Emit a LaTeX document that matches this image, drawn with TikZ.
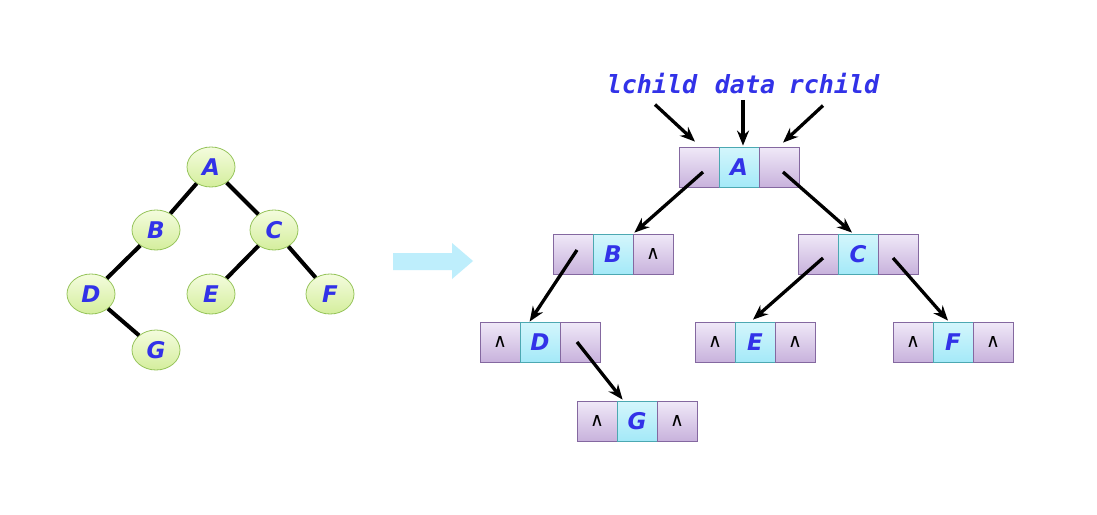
\documentclass[tikz,border=0pt]{standalone}
\usepackage{fontspec}
\usetikzlibrary{arrows.meta,shapes.geometric,calc}
\newfontfamily\dvsans{DejaVu Sans}
\newfontfamily\dvmono{DejaVu Sans Mono}
\definecolor{letterblue}{RGB}{50,50,232}
\definecolor{elltop}{RGB}{244,252,222}
\definecolor{ellbot}{RGB}{212,238,156}
\definecolor{elldraw}{RGB}{150,196,90}
\definecolor{purtop}{RGB}{240,233,248}
\definecolor{purbot}{RGB}{200,178,220}
\definecolor{purdraw}{RGB}{132,104,160}
\definecolor{cyantop}{RGB}{212,246,252}
\definecolor{cyanbot}{RGB}{164,233,248}
\definecolor{cyandraw}{RGB}{76,168,178}
\definecolor{bigarrow}{RGB}{190,238,252}
\tikzset{
  treenode/.style={ellipse, minimum width=48pt, minimum height=40pt, inner sep=0pt,
    top color=elltop, bottom color=ellbot, draw=elldraw, line width=0.8pt,
    font=\dvsans\bfseries\itshape\fontsize{23}{23}\selectfont, text=letterblue},
  treeedge/.style={line width=4pt, black},
  ptrcell/.style={rectangle, minimum width=40pt, minimum height=40pt, inner sep=0pt,
    top color=purtop, bottom color=purbot, draw=purdraw, line width=0.8pt,
    font=\dvsans\fontsize{19}{19}\selectfont, text=black},
  datacell/.style={rectangle, minimum width=40pt, minimum height=40pt, inner sep=0pt,
    top color=cyantop, bottom color=cyanbot, draw=cyandraw, line width=0.8pt,
    font=\dvsans\bfseries\itshape\fontsize{23}{23}\selectfont, text=letterblue},
  fieldlabel/.style={font=\dvmono\bfseries\itshape\fontsize{25}{25}\selectfont, text=letterblue, inner sep=0pt},
  ptrarrow/.style={line width=3.3pt, black, -{Stealth[length=15pt,width=12pt]}},
}
% name, left x, center y, data letter, left content, right content
\newcommand{\listbox}[6]{%
  \node[ptrcell] (#1L) at (#2+20,#3) {#5};
  \node[datacell] (#1D) at (#2+60,#3) {#4};
  \node[ptrcell] (#1R) at (#2+100,#3) {#6};
}
\begin{document}
\begin{tikzpicture}[x=1pt,y=-1pt]
\useasboundingbox (0,0) rectangle (1097,514);
\fill[white] (0,0) rectangle (1097,514);

% ---- left tree ----
\node[treenode] (tA) at (211,167) {A};
\node[treenode] (tB) at (156,230) {B};
\node[treenode] (tC) at (274,230) {C};
\node[treenode] (tD) at (91,294) {D};
\node[treenode] (tE) at (211,294) {E};
\node[treenode] (tF) at (330,294) {F};
\node[treenode] (tG) at (156,350) {G};
\draw[treeedge] (tA) -- (tB);
\draw[treeedge] (tA) -- (tC);
\draw[treeedge] (tB) -- (tD);
\draw[treeedge] (tC) -- (tE);
\draw[treeedge] (tC) -- (tF);
\draw[treeedge] (tD) -- (tG);

% ---- big arrow ----
\fill[bigarrow] (393,253) -- (452,253) -- (452,243) -- (473,261) -- (452,279) -- (452,270) -- (393,270) -- cycle;

% ---- linked structure ----
\listbox{A}{679}{167}{A}{}{}
\listbox{B}{553}{254}{B}{}{∧}
\listbox{C}{798}{254}{C}{}{}
\listbox{D}{480}{342}{D}{∧}{}
\listbox{E}{695}{342}{E}{∧}{∧}
\listbox{F}{893}{342}{F}{∧}{∧}
\listbox{G}{577}{421}{G}{∧}{∧}

% ---- field labels ----
\node[fieldlabel] (lc) at (652,84) {lchild};
\node[fieldlabel] (dt) at (745,84) {data};
\node[fieldlabel] (rc) at (834,84) {rchild};
\coordinate (lcs) at ($(lc.south)+(3,10)$);
\coordinate (dts) at ($(dt.south)+(-2,6)$);
\coordinate (rcs) at ($(rc.south)+(-11,11)$);
\draw[ptrarrow] (lcs) -- ($(AL.north)+(-4,-5)$);
\draw[ptrarrow] (dts) -- ($(AD.north)+(4,-1)$);
\draw[ptrarrow] (rcs) -- ($(AR.north)+(4,-4)$);

% ---- pointers ----
\draw[ptrarrow] ($(AL.center)+(4,5)$) -- ($(BD.north east)+(1,-1)$);
\draw[ptrarrow] ($(AR.center)+(4,5)$) -- ($(CD.north)+(-6,-1)$);
\draw[ptrarrow] ($(BL.center)+(4,-4)$) -- ($(DD.north west)+(10,0)$);
\draw[ptrarrow] ($(DR.center)+(-3,0)$) -- ($(GD.north west)+(6,-1)$);
\draw[ptrarrow] ($(CL.center)+(5,4)$) -- ($(ED.north)+(-2,-2)$);
\draw[ptrarrow] ($(CR.center)+(-5,4)$) -- ($(FD.north)+(-5,-1)$);
\end{tikzpicture}
\end{document}
